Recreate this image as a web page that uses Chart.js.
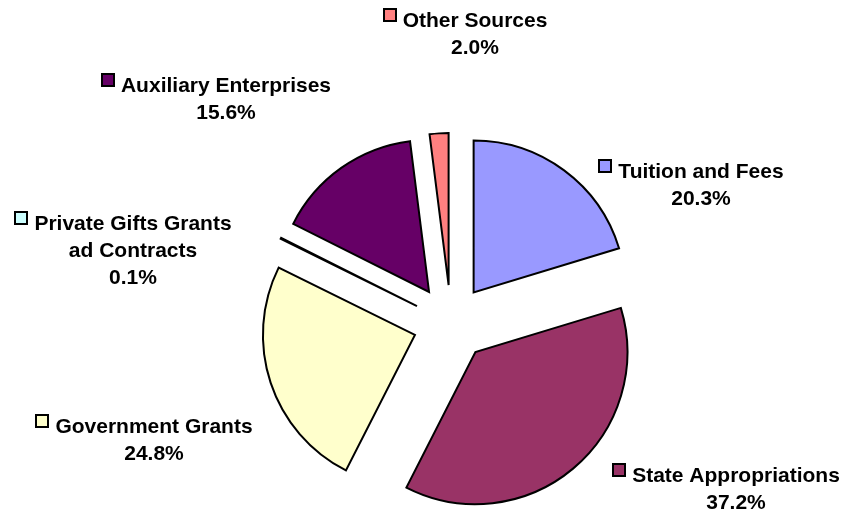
<!DOCTYPE html>
<html><head><meta charset="utf-8">
<script src="https://cdn.jsdelivr.net/npm/chart.js@4.4.0/dist/chart.umd.min.js"></script>
<style>html,body{margin:0;padding:0;background:#fff;overflow:hidden}</style>
</head><body>
<canvas id="c" width="847" height="515"></canvas>
<script>
// ---- data ----
const categories = ['Tuition and Fees','State Appropriations','Government Grants','Private Gifts Grants ad Contracts','Auxiliary Enterprises','Other Sources'];
const labelLines = [['Tuition and Fees'],['State Appropriations'],['Government Grants'],['Private Gifts Grants','ad Contracts'],['Auxiliary Enterprises'],['Other Sources']];
const shares = [20.3, 37.2, 24.8, 0.1, 15.6, 2.0];
const sliceColors = ['#9999FF','#993366','#FFFFCC','#CCFFFF','#660066','#FF8080'];

// ---- layout (label anchors relative to pie center, px) ----
const labelOffsets = [[250,-145],[285,159],[-297,110],[-318,-93],[-225,-231],[24,-296]];
const EXPLODE = 38;
const LINE_H = 27;

const explodePlugin = {
  id: 'explode',
  afterDatasetUpdate(chart, args) {
    args.meta.data.forEach(arc => {
      const mid = (arc.startAngle + arc.endAngle) / 2;
      arc.x += Math.cos(mid) * EXPLODE;
      arc.y += Math.sin(mid) * EXPLODE;
    });
  }
};

const labelPlugin = {
  id: 'sliceLabels',
  afterDraw(chart) {
    const ctx = chart.ctx;
    const ca = chart.chartArea;
    const cx = (ca.left + ca.right) / 2, cy = (ca.top + ca.bottom) / 2;
    ctx.save();
    ctx.font = 'bold 21px "Liberation Sans", Arial, sans-serif';
    ctx.textAlign = 'center';
    ctx.textBaseline = 'alphabetic';
    categories.forEach((c, i) => {
      const x = cx + labelOffsets[i][0], y = cy + labelOffsets[i][1];
      const lines = labelLines[i].concat([shares[i].toFixed(1) + '%']);
      ctx.fillStyle = '#000';
      lines.forEach((t, j) => ctx.fillText(t, x, y + j * LINE_H));
      const w = ctx.measureText(labelLines[i][0]).width;
      const sx = Math.round(x - w / 2 - 19), sy = Math.round(y - 18);
      ctx.fillStyle = sliceColors[i];
      ctx.fillRect(sx, sy, 12, 12);
      ctx.strokeStyle = '#000';
      ctx.lineWidth = 2;
      ctx.strokeRect(sx, sy, 12, 12);
    });
    ctx.restore();
  }
};

new Chart(document.getElementById('c'), {
  type: 'pie',
  data: {
    labels: categories,
    datasets: [{
      data: shares,
      backgroundColor: sliceColors,
      borderColor: '#000',
      borderWidth: 2,
      borderJoinStyle: 'miter',
      radius: 152
    }]
  },
  options: {
    responsive: false,
    animation: false,
    radius: 152,
    layout: { padding: { left: 55, right: 0, top: 131, bottom: 0 } },
    plugins: { legend: { display: false }, tooltip: { enabled: false } }
  },
  plugins: [explodePlugin, labelPlugin]
});
</script>
</body></html>
